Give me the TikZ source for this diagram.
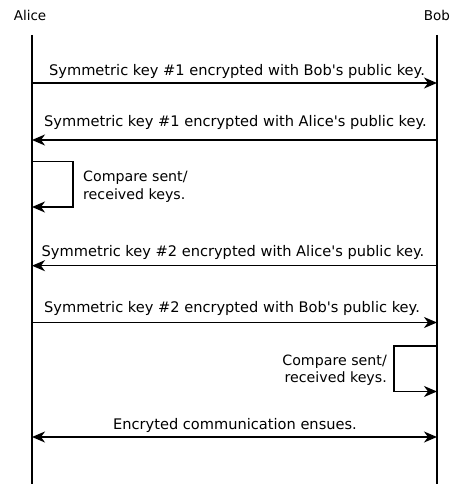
\documentclass[tikz,border=0pt]{standalone}
\usepackage{fontspec}
\setmainfont{DejaVu Sans}
\usetikzlibrary{arrows.meta}
\begin{document}
\begin{tikzpicture}[x=1pt,y=-1pt,
  life/.style={line width=1.6pt},
  msg/.style={line width=1.4pt,-{Stealth[length=13pt,width=11pt,inset=4pt]}},
  dmsg/.style={line width=1.4pt,{Stealth[length=13pt,width=11pt,inset=4pt]}-{Stealth[length=13pt,width=11pt,inset=4pt]}},
  whotext/.style={font=\fontsize{13.5}{16}\selectfont,inner sep=0pt,anchor=base},
  lbl/.style={font=\fontsize{14.6}{18}\selectfont,inner sep=0pt,anchor=base},
  note/.style={font=\fontsize{14.2}{17.5}\selectfont,inner sep=0pt}]
\useasboundingbox (0,0) rectangle (454,484);
\node[whotext] (alice) at (30,20.5) {Alice};
\node[whotext] (bob) at (437,20.5) {Bob};
\coordinate (at) at (32,35);
\coordinate (ab) at (32,484);
\coordinate (bt) at (437,35);
\coordinate (bb) at (437,484);
\draw[life] (at) -- (ab);
\draw[life] (bt) -- (bb);
% message 1
\coordinate (a1) at (32,83); \coordinate (b1) at (437,83);
\draw[msg] (a1) -- (b1);
\node[lbl] (t1) at (237,75.5) {Symmetric key \#1 encrypted with Bob\textquotesingle s public key.};
% message 2
\coordinate (a2) at (32,140); \coordinate (b2) at (437,140);
\draw[msg] (b2) -- (a2);
\node[lbl] (t2) at (235.5,127) {Symmetric key \#1 encrypted with Alice\textquotesingle s public key.};
% self loop alice
\coordinate (a3) at (32,161.5); \coordinate (a3r) at (73,161.5); \coordinate (a3b) at (73,207); \coordinate (a3e) at (32,207);
\draw[msg] (a3) -- (a3r) -- (a3b) -- (a3e);
\node[note,align=left,anchor=base west] (t3) at (83,199) {Compare sent/\\received keys.};
% message 4
\coordinate (a4) at (32,265.7); \coordinate (b4) at (437,265.7);
\draw[msg] (b4) -- (a4);
\node[lbl] (t4) at (233,256) {Symmetric key \#2 encrypted with Alice\textquotesingle s public key.};
% message 5
\coordinate (a5) at (32,322.5); \coordinate (b5) at (437,322.5);
\draw[msg] (a5) -- (b5);
\node[lbl] (t5) at (232,312.7) {Symmetric key \#2 encrypted with Bob\textquotesingle s public key.};
% self loop bob
\coordinate (b6) at (437,346); \coordinate (b6l) at (394,346); \coordinate (b6b) at (394,391.5); \coordinate (b6e) at (437,391.5);
\draw[msg] (b6) -- (b6l) -- (b6b) -- (b6e);
\node[note,align=right,anchor=base east] (t6) at (387,382.5) {Compare sent/\\received keys.};
% message 7
\coordinate (a7) at (32,437); \coordinate (b7) at (437,437);
\draw[dmsg] (a7) -- (b7);
\node[lbl] (t7) at (235,429) {Encryted communication ensues.};
\end{tikzpicture}
\end{document}
